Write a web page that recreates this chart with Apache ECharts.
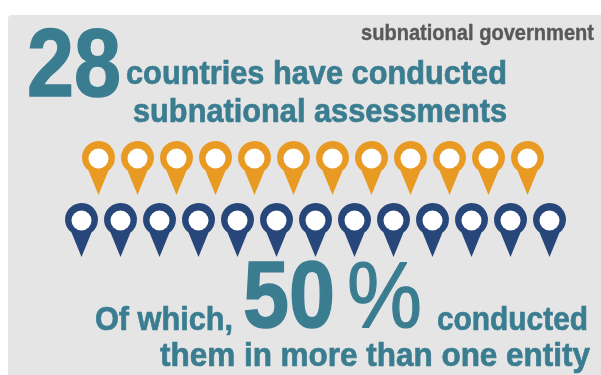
<!DOCTYPE html>
<html><head><meta charset="utf-8">
<style>html,body{margin:0;padding:0;background:#fff;overflow:hidden}#c{width:601px;height:375px;filter:blur(0.6px)}</style>
<script src="https://cdn.jsdelivr.net/npm/echarts@6/dist/echarts.min.js"></script>
</head><body><div id="c"></div>
<script>
const orangePins = [1,1,1,1,1,1,1,1,1,1,1,1];
const navyPins = [1,1,1,1,1,1,1,1,1,1,1,1,1];
const headline = '28';
const headlineText1 = 'countries have conducted';
const headlineText2 = 'subnational assessments';
const corner = 'subnational government';
const lead = 'Of which,';
const share = '50';
const pct = '%';
const tail1 = 'conducted';
const tail2 = 'them in more than one entity';
const TEAL='#3b7d90', ORANGE='#e99a22', NAVY='#27467a', GREY='#58595b';
const PIN='path://M16.5 54 L6.5 29.6 A16.5 16.5 0 1 1 26.5 29.6 Z';
const FAM='"Liberation Sans",sans-serif';
const mc=document.createElement('canvas').getContext('2d');
function t(text,x,mid,size,width,color,weight,stroke){
  const font=(weight||'bold')+' '+size+'px '+FAM; mc.font=font;
  const w=mc.measureText(text).width;
  return {type:'text',x:x,y:mid,scaleX:width/w,z:5,
    style:{text:text,font:font,fill:color,stroke:color,lineWidth:stroke||0.7,align:'left',verticalAlign:'middle'}};
}
const chart=echarts.init(document.getElementById('c'),null,{renderer:'canvas'});
function idx(a){return a.map((_,i)=>i);}
function pinSeries(data,color,gi){
  return [{type:'scatter',xAxisIndex:gi,yAxisIndex:gi,silent:true,symbol:PIN,symbolSize:[33,54],
      itemStyle:{color:color,opacity:1},data:data.map((v,i)=>[i,0])},
    {type:'scatter',xAxisIndex:gi,yAxisIndex:gi,silent:true,symbol:'circle',symbolSize:20,symbolOffset:[0,-9.5],
      itemStyle:{color:'#fff',opacity:1},data:data.map((v,i)=>[i,0])}];
}
chart.setOption({
  animation:false,backgroundColor:'#fff',
  tooltip:{show:false},
  grid:[{left:98.5,width:429,top:141,height:54},{left:81.5,width:468,top:203,height:54}],
  xAxis:[{gridIndex:0,type:'category',boundaryGap:false,data:idx(orangePins),show:false},
         {gridIndex:1,type:'category',boundaryGap:false,data:idx(navyPins),show:false}],
  yAxis:[{gridIndex:0,type:'category',data:[0],show:false},{gridIndex:1,type:'category',data:[0],show:false}],
  series:[...pinSeries(orangePins,ORANGE,0),...pinSeries(navyPins,NAVY,1)],
  graphic:{elements:[
    {type:'rect',shape:{x:8,y:15,width:600,height:370,r:4},style:{fill:'#e5e5e5'},z:-10,silent:true},
    t(headline,27,69,97,94,TEAL,'bold',1.5),
    t(headlineText1,126,75,34,381,TEAL),
    t(headlineText2,133,113,34,374,TEAL),
    t(corner,361,34,22,233,GREY,'bold',0.4),
    t(lead,95,321,34,138,TEAL),
    t(share,243,301,95,92,TEAL,'bold',1.5),
    t(pct,347,301,95,75,TEAL,'normal',1.2),
    t(tail1,437,321,34,151,TEAL),
    t(tail2,160,357,34,430,TEAL)
  ]}
});
</script></body></html>
